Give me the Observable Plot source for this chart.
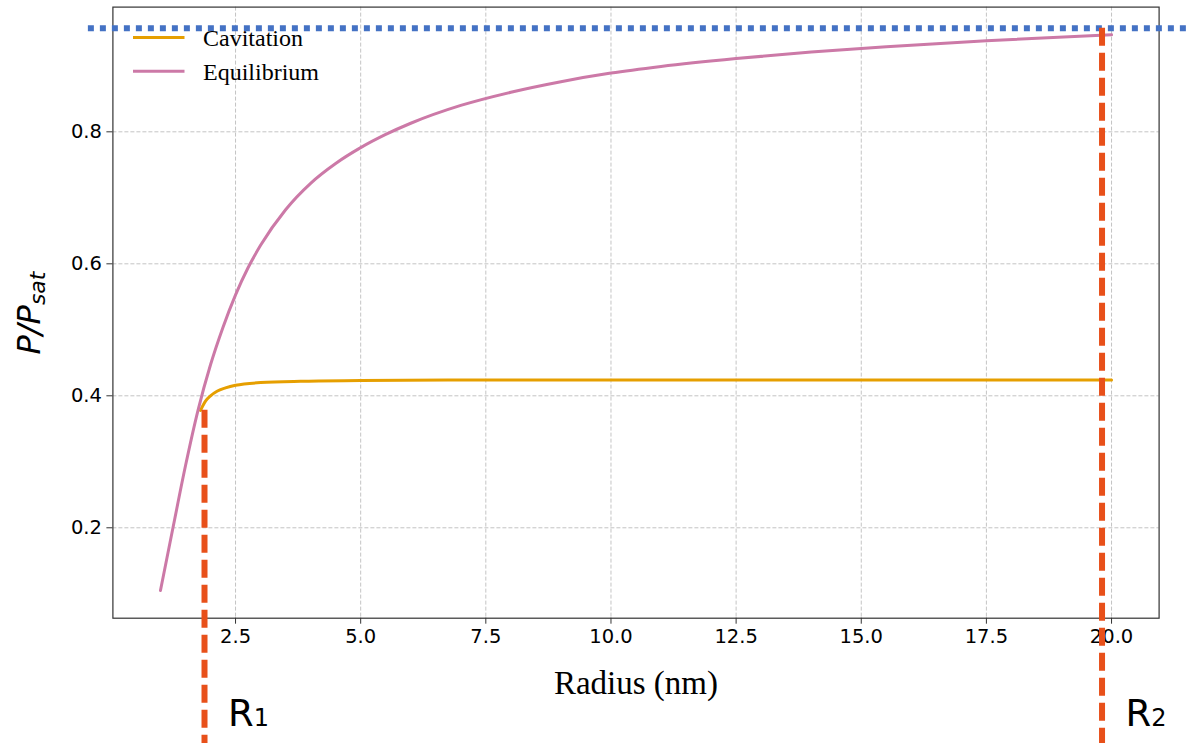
<!DOCTYPE html>
<html>
<head>
<meta charset="utf-8">
<script src="https://cdn.jsdelivr.net/npm/d3@7"></script>
<script src="https://cdn.jsdelivr.net/npm/@observablehq/plot@0.6"></script>
<style>
  html, body { margin: 0; padding: 0; background: #fff; }
  #chart { position: relative; width: 1191px; height: 743px; }
</style>
</head>
<body>
<div id="chart"></div>
<script>
// ---- data ----
const radiusEq = [1.0, 1.25, 1.5, 1.75, 2.0, 2.25, 2.5, 2.75, 3.0, 3.5, 4.0, 4.5, 5.0, 5.5, 6.0, 7.0, 8.0, 9.0, 10, 11, 12.5, 14, 15.5, 17.5, 20];
const pEq      = [0.105, 0.200, 0.294, 0.378, 0.447, 0.504, 0.553, 0.594, 0.628, 0.682, 0.722, 0.752, 0.776, 0.796, 0.813, 0.840, 0.860, 0.876, 0.889, 0.899, 0.911, 0.921, 0.929, 0.938, 0.947];

const radiusCav = [1.8, 1.9, 2.0, 2.13, 2.3, 2.5, 3.0, 3.8, 5, 7, 10, 15, 20];
const pCav      = [0.378, 0.392, 0.400, 0.407, 0.412, 0.416, 0.420, 0.422, 0.423, 0.424, 0.424, 0.424, 0.424];

const seriesNames  = ["Cavitation", "Equilibrium"];
const seriesColors = ["#E69F00", "#CC79A7"];

const xTicks = [2.5, 5.0, 7.5, 10.0, 12.5, 15.0, 17.5, 20.0];
const yTicks = [0.2, 0.4, 0.6, 0.8];

const R1 = 1.88, R2 = 19.81;          // radii of the two markers
const R1top = 0.378, R2top = 0.957;   // where the dashed markers start
const satLevel = 0.957;               // dotted reference line
const markerLabels = ["R", "R"];
const markerSubs = ["1", "2"];

// ---- tables ----
const eq  = radiusEq.map((r, i) => ({r, p: pEq[i]}));
const cav = radiusCav.map((r, i) => ({r, p: pCav[i]}));
const markers = [
  {r: R1, top: R1top},
  {r: R2, top: R2top}
];

const W = 1191, H = 743;
const xDomain = [0.05, 20.95], yDomain = [0.063, 0.989];
const bottomVal = -0.13;

const plot = Plot.plot({
  width: W,
  height: H,
  marginLeft: 112.4,
  marginRight: 32.4,
  marginTop: 6.6,
  marginBottom: 125.3,
  style: {fontFamily: "DejaVu Sans", fontSize: "19px", color: "#000", background: "#fff"},
  x: {domain: xDomain, label: null},
  y: {domain: yDomain, label: null},
  marks: [
    Plot.ruleX(xTicks, {stroke: "#c4c4c4", strokeWidth: 1, strokeDasharray: "4,2"}),
    Plot.ruleY(yTicks, {stroke: "#c4c4c4", strokeWidth: 1, strokeDasharray: "4,2"}),
    Plot.axisX({ticks: xTicks, tickFormat: d3.format(".1f"), tickSize: 6, tickPadding: 5, label: null, stroke: "#333", fontSize: 19, fill: "#000"}),
    Plot.axisY({ticks: yTicks, tickFormat: d3.format(".1f"), tickSize: 6, tickPadding: 5, label: null, stroke: "#333", fontSize: 19, fill: "#000"}),
    Plot.frame({stroke: "#333", strokeWidth: 1.2}),
    Plot.ruleY([satLevel], {x1: -0.44, x2: 21.7, stroke: "#4472C4", strokeWidth: 6, strokeDasharray: "6,6"}),
    Plot.line(cav, {x: "r", y: "p", stroke: seriesColors[0], strokeWidth: 3, curve: "monotone-x"}),
    Plot.line(eq, {x: "r", y: "p", stroke: seriesColors[1], strokeWidth: 3, curve: "monotone-x"}),
    Plot.ruleX(markers, {x: "r", y1: "top", y2: bottomVal, stroke: "#E8501A", strokeWidth: 6, strokeDasharray: "18,7"})
  ]
});

document.getElementById("chart").appendChild(plot);

// ---- extra text: axis labels, legend, marker labels ----
const svg = d3.select(plot);
const xs = v => 109.86 + 50.06 * v;

// make sure tick labels use the larger size
svg.selectAll("text")
  .filter(function() { return /^[0-9.]+$/.test(this.textContent); })
  .attr("font-size", 19.5)
  .style("font-size", "19.5px")
  .style("font-family", "'DejaVu Sans', sans-serif")
  .style("fill", "#000");

// x label
svg.append("text")
  .attr("x", 636).attr("y", 694)
  .attr("text-anchor", "middle")
  .style("font-family", "'Liberation Serif', 'Times New Roman', serif")
  .style("font-size", "33px")
  .text("Radius (nm)");

// y label P/P_sat
const yl = svg.append("text")
  .attr("transform", "translate(40,313) rotate(-90)")
  .attr("text-anchor", "middle")
  .style("font-family", "'DejaVu Sans', sans-serif")
  .style("font-style", "italic")
  .style("font-size", "32px");
yl.append("tspan").text("P/P");
yl.append("tspan").attr("dy", "0.22em").style("font-size", "22px").text("sat");

// legend
const leg = svg.append("g");
seriesNames.forEach((name, i) => {
  const cy = 37.5 + i * 33.7;
  leg.append("line").attr("x1", 133).attr("x2", 184.5).attr("y1", cy).attr("y2", cy)
    .attr("stroke", seriesColors[i]).attr("stroke-width", 3);
  leg.append("text").attr("x", 203).attr("y", cy + 8.3)
    .attr("text-anchor", "start")
    .style("font-family", "'Liberation Serif', 'Times New Roman', serif")
    .style("font-size", "24px")
    .text(name);
});

// marker labels R1, R2
markers.forEach((m, i) => {
  const t = svg.append("text")
    .attr("x", xs(m.r) + 24).attr("y", 726)
    .attr("text-anchor", "start")
    .style("font-family", "'DejaVu Sans', sans-serif")
    .style("font-size", "37px");
  t.append("tspan").text(markerLabels[i]);
  t.append("tspan").style("font-size", "24px").text(markerSubs[i]);
});
</script>
</body>
</html>
